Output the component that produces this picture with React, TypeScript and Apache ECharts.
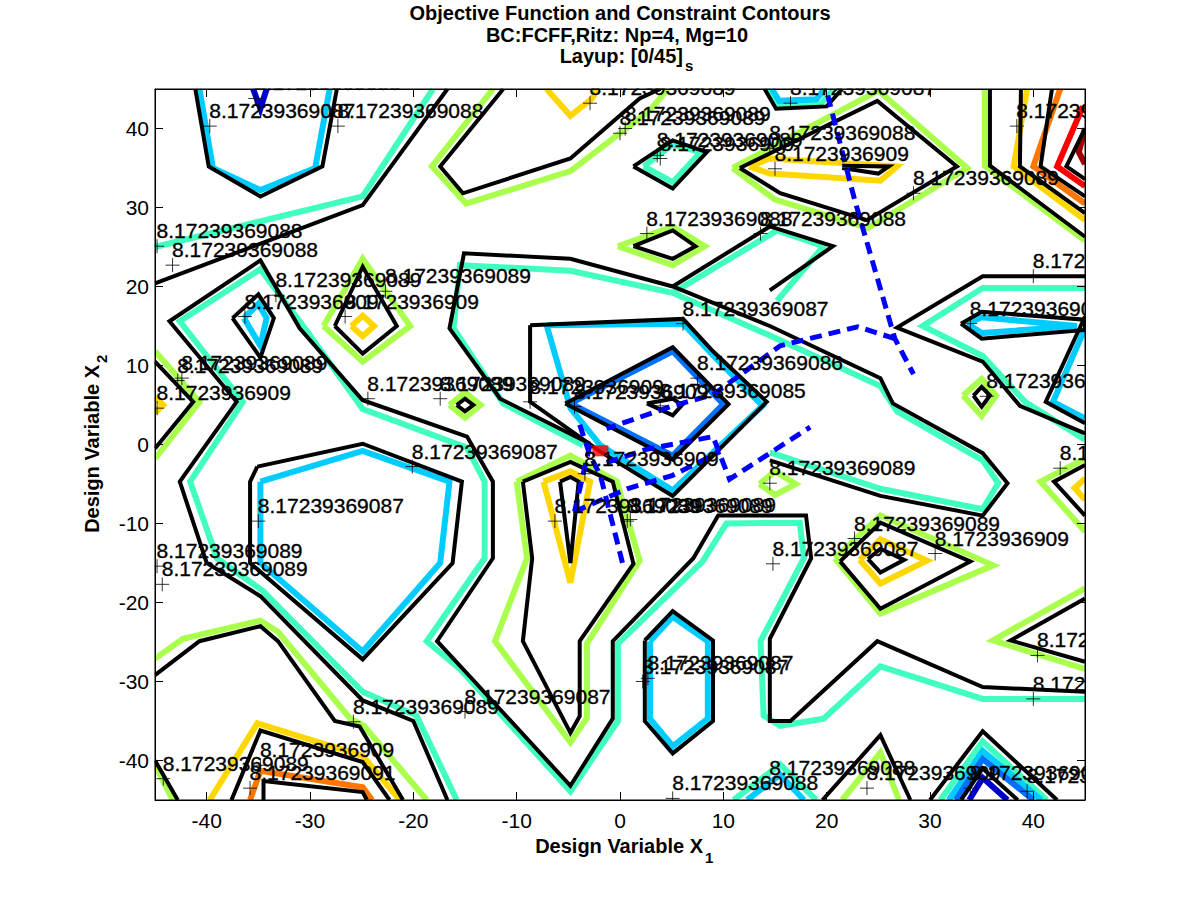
import React, { useEffect, useRef } from "react";
import * as echarts from "echarts";

type Pt = [number, number];
type Line = Pt[];

const xTicks = [-40, -30, -20, -10, 0, 10, 20, 30, 40];
const yTicks = [-40, -30, -20, -10, 0, 10, 20, 30, 40];

const titleLines = ["Objective Function and Constraint Contours", "BC:FCFF,Ritz: Np=4, Mg=10", "Layup: [0/45]"];

const blackLines: Line[] = [
  [[-41.1, 45], [-39.8, 35.2], [-34.8, 31.4], [-28.8, 35.2], [-27.4, 45]],
  [[-45, 20.4], [-24.9, 30.3], [-16.7, 45]],
  [[-11.3, 45], [-17.4, 35.2], [-15.2, 31.8], [-4.8, 36.2], [1.9, 43.8], [3.9, 45]],
  [[1.3, 35.2], [5.1, 32.4], [8.4, 37], [5.1, 38.5], [1.3, 35.2]],
  [[11.6, 35], [24.9, 43.5], [32.6, 35.2], [23.9, 28.4], [15.5, 31.8], [11.6, 35]],
  [[21.5, 35.3], [26, 35.2], [25, 34.3], [21.5, 35]],
  [[35.8, 45], [35.8, 35.3], [45, 26.3]],
  [[38.8, 45], [38.7, 35.2], [45, 29.3]],
  [[41.8, 45], [40.7, 35.2], [45, 31.4]],
  [[45, 40], [43.2, 35.2], [45, 33.6]],
  [[45, 21.3], [35.1, 21.3], [26.8, 14.8], [35.1, 10.5], [38.7, 4.9], [45, 1.4]],
  [[33, 15.3], [35, 13.4], [45, 14.5], [45, 15.8], [35, 16.8], [33, 15.3]],
  [[45, 16.2], [41.2, 5.4], [45, 2.7]],
  [[34.2, 6.2], [35, 7.3], [35.8, 6.2], [35, 4.8], [34.2, 6.2]],
  [[45, -2.6], [42, -4.7], [45, -9]],
  [[-16.7, -45], [-20, -35], [-24.9, -32.4], [-34.8, -19.2], [-40, -15], [-42.6, -4.7], [-37.1, 5.4], [-43.6, 15.6], [-34.8, 23.3], [-31, 14.7], [-24.9, 5.6], [-14.8, 1], [-12.3, -4.7], [-12.3, -14.4], [-17.7, -24.9], [-14.5, -29.4], [-4.8, -43.2], [-0.7, -34.7], [-0.7, -24.9], [7.1, -14.4], [9.5, -9], [18, -9], [18.5, -14.4], [14.5, -24.6], [14.5, -35], [16.5, -35], [24.9, -24.9], [35.1, -30.7], [45, -31.3]],
  [[-35.1, -2.8], [-35.8, -4.7], [-35.8, -15], [-24.9, -27.2], [-16.2, -15], [-15.3, -4.7], [-24.9, 0.1], [-35.1, -2.8]],
  [[-2.9, 0.1], [-11.6, 5.8], [-16.5, 14.7], [-15.1, 24.2], [-4.8, 23.5], [5.1, 20], [14.5, 15], [25.2, 8.4], [26.4, 5.2], [35.1, -1.1], [37.5, -4.9], [35.1, -9], [25.2, -6.5], [14.5, -2]],
  [[5.1, 20], [14.5, 27.6], [20.6, 25.1], [14.5, 19.5]],
  [[1.3, 25.1], [5.1, 27.1], [7.3, 25.1], [5.1, 23.5], [1.3, 25.1]],
  [[-8.7, 15.1], [6.1, 15.9], [9, 11.8], [14.2, 5.4], [5.1, -6.5], [-1.9, -0.9], [-8.7, 5.4], [-8.7, 15.1]],
  [[-5.3, 5.2], [5.1, 12.3], [10.5, 5.1], [5.1, -1.9], [-5.3, 5.2]],
  [[2.6, 5.2], [5.1, 5.8], [6, 5], [5.1, 3.7], [2.6, 5.2]],
  [[-9.4, -4.7], [-4.8, -2.2], [-0.7, -4.7], [1.3, -15.1], [-3.9, -24.9], [-3.9, -34.4], [-4.8, -36.5], [-9.4, -24.9], [-8.5, -14.4], [-9.4, -4.7]],
  [[-5.8, -4.7], [-4.8, -4.1], [-4, -4.7], [-4.8, -15], [-5.8, -4.7]],
  [[2.4, -24.8], [5.1, -21.1], [9, -24.8], [9, -35], [5.1, -39.1], [2.4, -35], [2.4, -24.8]],
  [[21.3, -14.8], [25.2, -9.9], [33.9, -14.8], [25.2, -20.8], [21.3, -14.8]],
  [[24, -14.5], [25.2, -13.2], [27.5, -14.6], [25.2, -16.2], [24, -14.5]],
  [[45, -19.5], [37.8, -24.8], [45, -27.5]],
  [[-45, 10.5], [-41.3, 5.4], [-45, -0.5]],
  [[-27.6, 15], [-24.9, 22.5], [-21.6, 15], [-24.9, 11.5], [-27.6, 15]],
  [[-15.8, 5], [-15, 5.8], [-14.2, 5], [-15, 4.2], [-15.8, 5]],
  [[-37.5, 16], [-35, 19], [-33.5, 16], [-34.8, 11], [-37.5, 16]],
  [[-45, -29.2], [-40.7, -24.9], [-34.8, -23], [-33.1, -24.9], [-27.6, -35], [-25.2, -35.7], [-21, -45]],
  [[-37.6, -45], [-34.8, -36.2], [-24.9, -40.2], [-22.3, -45]],
  [[-34.5, -45], [-34.5, -42.6], [-24.9, -44], [-24.5, -45]],
  [[-45, -40], [-42.8, -45]],
  [[19.6, -45], [25.2, -36.8], [28.1, -45]],
  [[30, -45], [35.1, -36.3], [42.3, -45]],
  [[33, -45], [35.1, -41], [38.5, -45]],
  [[14, 45], [15.1, 42.5], [20, 42.8], [21.5, 45]],
];

const aquaLines: Line[] = [
  [[-45, 25], [-24.9, 31.4], [-18.1, 45]],
  [[2.3, 35.2], [5.1, 33.2], [7.8, 37], [5.1, 38], [2.3, 35.2]],
  [[-15.8, -45], [-19.7, -34.3], [-24.9, -31.3], [-34.6, -18.5], [-39, -14.4], [-41.6, -4.7], [-36.5, 5.4], [-42.6, 15.6], [-34.8, 22.2], [-30.5, 14.7], [-24.9, 4.5], [-14.8, -0.4], [-13.1, -4.7], [-13.1, -14.4], [-18.7, -24.9], [-15.5, -28.4], [-4.8, -43.9], [-0.2, -35], [-0.2, -25.2], [8, -14.8], [10.3, -10], [17.4, -9.9], [17.8, -14.4], [13.6, -24.9], [13.9, -34.3], [15.5, -35.6], [19.7, -34.7], [25.2, -28.1], [35.1, -32.2], [45, -32.2]],
  [[45, 19.8], [35.1, 19.8], [29.3, 15], [35.1, 11.2], [39.2, 5.4], [45, 0.6]],
  [[-3.6, -0.1], [-11.3, 5.2], [-16.1, 14.7], [-15.5, 22.7], [-4.8, 22], [5.1, 19.2], [14.5, 13.8], [25.2, 7.4], [26.8, 4.2], [35.1, -2], [36.6, -4.9], [35.1, -8.2], [25.2, -5.6], [14.5, -1]],
  [[5.1, 19.2], [15.2, 27.1], [19.7, 25.1], [15.2, 18.2]],
  [[31, -45], [35.1, -37.6], [41.3, -45]],
  [[11, -45], [15.5, -40.5], [19, -45]],
  [[14.3, 45], [15.2, 43], [19.5, 43.2], [20.7, 45]],
];

const greenLines: Line[] = [
  [[-12.3, 45], [-18.2, 35.2], [-14.9, 30.5], [-4.8, 34.6], [2.9, 42.3], [4.6, 45]],
  [[10.9, 35], [25, 44.8], [33.6, 35], [24, 27.4], [15, 31], [10.9, 35]],
  [[35.3, 45], [35.3, 35.3], [45, 25.8]],
  [[-45, 11.8], [-40.7, 5.4], [-45, -1.8]],
  [[-0.2, 25.1], [5.1, 27.6], [8.2, 25.1], [5.1, 22.7], [-0.2, 25.1]],
  [[-10, -4.7], [-4.8, -1.4], [-0.3, -4.7], [1.9, -14.7], [-3.2, -25.2], [-3.2, -34.6], [-4.8, -37.7], [-12.1, -24.9], [-9, -14.4], [-10, -4.7]],
  [[-16.5, 5], [-15, 6.6], [-13.5, 5], [-15, 3.4], [-16.5, 5]],
  [[-28.7, 15], [-24.9, 23.5], [-20.3, 15], [-24.9, 10.5], [-28.7, 15]],
  [[33.2, 6.2], [35, 8.3], [36.4, 6.2], [35, 3.6], [33.2, 6.2]],
  [[45, -1.8], [40.7, -4.7], [45, -11]],
  [[20.8, -14.4], [25.2, -9], [36.1, -15.3], [25.2, -21.4], [20.8, -14.4]],
  [[45, -18.2], [36.1, -24.8], [45, -28.4]],
  [[-45, -27.1], [-42.3, -24.6], [-34.8, -22.3], [-33.1, -23.7], [-26.1, -34.7], [-24.8, -35.6], [-18.7, -45]],
  [[-45, -40.5], [-43.3, -45]],
  [[13.5, -5], [15, -3.4], [17, -5], [15, -6.4], [13.5, -5]],
  [[21.5, -45], [25.2, -39], [27, -45]],
];

const yellowLines: Line[] = [
  [[-7.1, 45], [-4.8, 41.6], [-2.7, 43.8], [-2.2, 45]],
  [[12.5, 35.2], [14.5, 36.2], [26.8, 35.2], [25.2, 33.4], [14.5, 34.3], [12.5, 35.2]],
  [[39.4, 45], [38.1, 35.2], [45, 28.4]],
  [[-7.4, -4.7], [-4.8, -3.4], [-2.9, -4.7], [-4.8, -17.5], [-7.4, -4.7]],
  [[23.2, -14.6], [25.2, -12], [29.7, -14.7], [25.2, -17.6], [23.2, -14.6]],
  [[-39.7, -45], [-35.1, -35.3], [-24.9, -39.4], [-21.3, -45]],
  [[-26, 15], [-24.9, 16.3], [-23.8, 15], [-24.9, 13.7], [-26, 15]],
  [[45, -4.3], [44, -5.5], [45, -7]],
  [[-45, 6], [-44.2, 5], [-45, 4]],
];

const orangeLines: Line[] = [
  [[42.6, 45], [40, 35.2], [45, 30.5]],
  [[-35.8, -45], [-34.8, -41.3], [-24.9, -43.4], [-24, -45]],
];

const redLines: Line[] = [[[44.8, 42.8], [42.3, 35.2], [45, 32.7]]];
const darkRedLines: Line[] = [[[45, 40], [44.4, 37], [45, 35.5]]];

const skyLines: Line[] = [
  [[-40.7, 45], [-39.4, 35], [-34.8, 32.2], [-29.5, 35], [-28.1, 45]],
  [[-34.8, -4.7], [-24.9, -0.8], [-16.5, -4.7], [-17.4, -15], [-24.9, -26.2], [-34.8, -15], [-34.8, -4.7]],
  [[-7.1, 15.1], [6.1, 15.3], [9, 11.3], [13.8, 4.9], [5.1, -5.8], [-1.9, -0.1], [-4.8, 4.6], [-7.1, 15.1]],
  [[2.9, -24.9], [5.1, -21.8], [8.5, -24.9], [8.5, -34.7], [5.1, -38.2], [2.9, -34.7], [2.9, -24.9]],
  [[33.6, 15.3], [35, 14.1], [44.2, 15], [35, 16.1], [33.6, 15.3]],
  [[45, 14.7], [41.9, 5.4], [45, 3.3]],
  [[-36.4, 16], [-35, 17.8], [-34.2, 16], [-34.8, 12.5], [-36.4, 16]],
  [[14.7, 45], [15.4, 43.5], [19, 43.7], [19.8, 45]],
  [[31.8, -45], [35.1, -38.8], [40.8, -45]],
  [[12.3, -45], [15.5, -41.8], [17.8, -45]],
];

const blueLines: Line[] = [
  [[-4.8, 5.2], [5.1, 11.8], [10, 5.1], [5.1, -1.4], [-4.8, 5.2]],
  [[32.5, -45], [35.1, -39.8], [40, -45]],
];

const navyLines: Line[] = [
  [[-35.5, 45], [-34.8, 42.5], [-34.2, 45]],
  [[33.8, -45], [35.1, -42.2], [37.5, -45]],
];

const pathSegments: Line[] = [
  [[20.1, 44.2], [22.7, 31], [26.6, 13.4], [28.4, 8.9]],
  [[26.6, 13.4], [23, 14.9], [15.5, 12.5], [9, 6.3], [5.1, 4.9], [-1.3, 2]],
  [[-3.9, 2.5], [-2.9, -1.4], [-1.9, -3.9], [0.3, -15.3]],
  [[-2.9, 0], [-4.4, -8.5]],
  [[-4.4, -8.5], [0.7, -5.6], [5.1, -3.9], [9.7, -0.9]],
  [[-1.3, -2.3], [2.6, -0.6], [9, 1], [10.6, -4.4], [18.4, 2.2]],
];

const optimumPoint: Pt[] = [[-1.9, -0.8]];

const labelPoints: [number, number, string][] = [
  [-39.7, 40.3, "8.17239369087"], [-27.3, 40.3, "8.17239369088"], [-35.3, 43.8, "8.17239369088"],
  [-44.8, 25.1, "8.17239369088"], [-43.3, 22.7, "8.17239369088"], [-33.3, 18.9, "8.17239369089"],
  [-22.7, 19.4, "8.17239369089"], [-36.3, 16.2, "8.1723936909"], [-26.6, 16.2, "8.1723936909"],
  [-42.8, 8.1, "8.17239369089"], [-42.4, 8.4, "8.17239369089"], [-44.8, 4.6, "8.1723936909"],
  [-35.0, -9.7, "8.17239369087"], [-44.8, -15.4, "8.17239369089"], [-44.3, -17.7, "8.17239369089"],
  [-24.4, 5.8, "8.17239369089"], [-17.4, 5.8, "8.17239369089"], [-8.7, 5.4, "8.1723936909"],
  [-20.1, -2.8, "8.17239369087"], [-2.9, 43.2, "8.17239369089"], [0, 39.4, "8.17239369089"],
  [0.5, 40, "8.17239369089"], [3.6, 36.6, "8.17239369089"], [3.9, 36.2, "8.1723936909"],
  [2.6, 26.7, "8.17239369088"], [13.6, 26.7, "8.17239369088"], [6.1, 15.3, "8.17239369087"],
  [7.5, 8.4, "8.17239369086"], [3.9, 4.9, "8.17239369085"], [-4.4, 4.8, "8.1723936909"],
  [-3.4, -3.7, "8.1723936909"], [-6.3, -9.7, "8.17239369089"], [0.7, -9.7, "8.17239369089"],
  [1.0, -9.5, "8.17239369089"], [14.5, -4.9, "8.17239369089"], [14.8, -15.1, "8.17239369087"],
  [22.7, -11.9, "8.17239369089"], [30.5, -13.8, "8.1723936909"], [15, 34.9, "8.1723936909"],
  [14.5, 37.5, "8.17239369088"], [28.4, 31.8, "8.17239369089"], [38.4, 40.3, "8.17239369087"],
  [40, 21.3, "8.17239369088"], [33.9, 15.3, "8.17239369089"], [35.5, 6.1, "8.17239369089"],
  [42.6, -3, "8.17239369089"], [2.2, -30, "8.17239369087"], [2.7, -29.6, "8.17239369087"],
  [-25.8, -35.1, "8.17239369089"], [-15, -33.8, "8.17239369087"], [5.1, -44.8, "8.17239369088"],
  [-34.8, -40.6, "8.1723936909"], [-44.2, -42.3, "8.17239369089"], [-35.8, -43.5, "8.17239369091"],
  [23.9, -43.5, "8.1723936909"], [33.9, -43.5, "8.17239369088"], [39.4, -43.9, "8.17239369089"],
  [14.5, -42.9, "8.17239369088"], [40.4, -26.7, "8.17239369088"], [40, -32.2, "8.17239369087"],
  [16.5, 43.2, "8.17239369087"],
];

const FONT = "'Liberation Sans', Arial, Helvetica, sans-serif";

export default function App() {
  const ref = useRef<HTMLDivElement>(null);
  useEffect(() => {
    if (!ref.current) return;
    const chart = echarts.init(ref.current, undefined, { renderer: "svg" });
    const series: any[] = [];
    const addLines = (lines: Line[], color: string, width: number, z: number, dashed = false) => {
      lines.forEach((pts) =>
        series.push({
          type: "line",
          data: pts,
          showSymbol: false,
          symbol: "none",
          silent: true,
          clip: true,
          z,
          lineStyle: { color, width, type: dashed ? [12, 7] : "solid", join: "miter" },
        })
      );
    };
    addLines(greenLines, "#AAFF4D", 6, 2);
    addLines(aquaLines, "#40FFC0", 6, 2);
    addLines(yellowLines, "#FFD700", 6, 2);
    addLines(orangeLines, "#FF7700", 6, 2);
    addLines(redLines, "#FF0000", 6, 2);
    addLines(darkRedLines, "#A00000", 6, 2);
    addLines(skyLines, "#00CCFF", 6, 2);
    addLines(blueLines, "#0070FF", 6, 2);
    addLines(navyLines, "#0000CC", 6, 2);
    addLines(blackLines, "#000000", 4, 3);
    addLines(pathSegments, "#0000FF", 5, 4, true);
    series.push({
      type: "scatter",
      data: optimumPoint,
      symbol: "rect",
      symbolSize: [16, 11],
      itemStyle: { color: "#FF0000" },
      silent: true,
      z: 5,
    });
    series.push({
      type: "scatter",
      data: labelPoints.map((p) => ({ value: [p[0], p[1]], name: p[2] })),
      symbol: "path://M0,5L10,5M5,0L5,10",
      symbolSize: 14,
      itemStyle: { color: "none", borderColor: "#000", borderWidth: 1 },
      silent: true,
      z: 6,
      label: {
        show: true,
        formatter: "{b}",
        position: [9, -6],
        align: "left",
        verticalAlign: "middle",
        fontSize: 21,
        color: "#000",
        opacity: 1,
        textBorderColor: "#000",
        textBorderWidth: 0.35,
        fontFamily: FONT,
      },
    });

    const axisCommon = {
      type: "value",
      min: -45,
      max: 45,
      z: 100,
      splitLine: { show: false },
      axisLine: { show: true, onZero: false, lineStyle: { color: "#000", width: 1 } },
    };
    const maskStyle = { fill: "#fff" };
    chart.setOption({
      animation: false,
      backgroundColor: "#fff",
      textStyle: { fontFamily: FONT },
      grid: { left: 155, right: 115, top: 89, bottom: 100, show: true, borderColor: "#000", borderWidth: 1, backgroundColor: "transparent", z: 100 },
      xAxis: [
        {
          ...axisCommon,
          position: "bottom",
          axisTick: { show: true, inside: true, length: 8, customValues: xTicks, lineStyle: { color: "#000" } },
          axisLabel: { show: true, customValues: xTicks, fontSize: 21, color: "#000", margin: 10, fontFamily: FONT },
        },
        {
          ...axisCommon,
          position: "top",
          axisTick: { show: true, inside: true, length: 8, customValues: xTicks, lineStyle: { color: "#000" } },
          axisLabel: { show: false },
        },
      ],
      yAxis: [
        {
          ...axisCommon,
          position: "left",
          axisTick: { show: true, inside: true, length: 8, customValues: yTicks, lineStyle: { color: "#000" } },
          axisLabel: { show: true, customValues: yTicks, fontSize: 21, color: "#000", margin: 6, fontFamily: FONT },
        },
        {
          ...axisCommon,
          position: "right",
          axisTick: { show: true, inside: true, length: 8, customValues: yTicks, lineStyle: { color: "#000" } },
          axisLabel: { show: false },
        },
      ],
      graphic: {
        elements: [
          { type: "rect", z: 50, silent: true, shape: { x: 0, y: 0, width: 1200, height: 88.5 }, style: maskStyle },
          { type: "rect", z: 50, silent: true, shape: { x: 0, y: 800.5, width: 1200, height: 100 }, style: maskStyle },
          { type: "rect", z: 50, silent: true, shape: { x: 0, y: 0, width: 154.5, height: 900 }, style: maskStyle },
          { type: "rect", z: 50, silent: true, shape: { x: 1085.5, y: 0, width: 115, height: 900 }, style: maskStyle },
          { type: "text", z: 110, x: 620, y: 13, style: { text: titleLines[0], fontSize: 20, fontWeight: "bold", fontFamily: FONT, fill: "#000", align: "center", verticalAlign: "middle", textAlign: "center", textVerticalAlign: "middle" } },
          { type: "text", z: 110, x: 617, y: 35, style: { text: titleLines[1], fontSize: 20, fontWeight: "bold", fontFamily: FONT, fill: "#000", align: "center", verticalAlign: "middle", textAlign: "center", textVerticalAlign: "middle" } },
          { type: "text", z: 110, x: 683, y: 56, style: { text: titleLines[2], fontSize: 20, fontWeight: "bold", fontFamily: FONT, fill: "#000", align: "right", verticalAlign: "middle", textAlign: "right", textVerticalAlign: "middle" } },
          { type: "text", z: 110, x: 685, y: 65, style: { text: "s", fontSize: 15, fontWeight: "bold", fontFamily: FONT, fill: "#000", align: "left", verticalAlign: "middle", textAlign: "left", textVerticalAlign: "middle" } },
          { type: "text", z: 110, x: 703, y: 846, style: { text: "Design Variable X", fontSize: 20, fontWeight: "bold", fontFamily: FONT, fill: "#000", align: "right", verticalAlign: "middle", textAlign: "right", textVerticalAlign: "middle" } },
          { type: "text", z: 110, x: 705, y: 857, style: { text: "1", fontSize: 15, fontWeight: "bold", fontFamily: FONT, fill: "#000", align: "left", verticalAlign: "middle", textAlign: "left", textVerticalAlign: "middle" } },
          {
            type: "group",
            z: 110,
            x: 92,
            y: 446,
            rotation: Math.PI / 2,
            children: [
              { type: "text", z: 110, x: 81, y: 0, style: { text: "Design Variable X", fontSize: 20, fontWeight: "bold", fontFamily: FONT, fill: "#000", align: "right", verticalAlign: "middle", textAlign: "right", textVerticalAlign: "middle" } },
              { type: "text", z: 110, x: 83, y: 9, style: { text: "2", fontSize: 15, fontWeight: "bold", fontFamily: FONT, fill: "#000", align: "left", verticalAlign: "middle", textAlign: "left", textVerticalAlign: "middle" } },
            ],
          },
        ],
      },
      series,
    });
    return () => chart.dispose();
  }, []);
  return <div ref={ref} style={{ position: "fixed", left: 0, top: 0, width: 1200, height: 900, background: "#fff" }} />;
}
